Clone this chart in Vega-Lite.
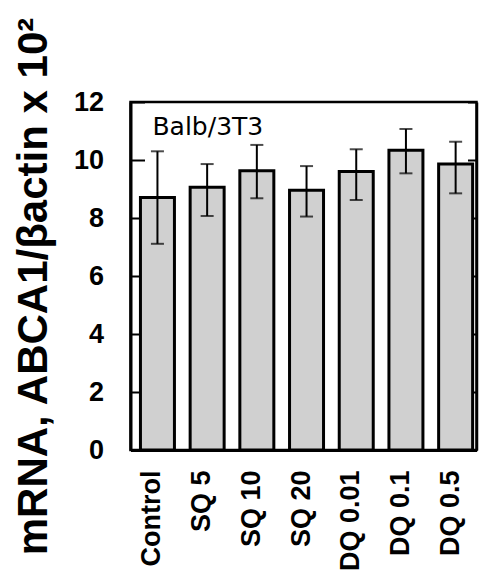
{
  "$schema": "https://vega.github.io/schema/vega-lite/v6.json",
  "width": 346,
  "height": 348,
  "autosize": "none",
  "padding": {"left": 130.5, "top": 102, "right": 2.5, "bottom": 125},
  "background": "white",
  "config": {
    "view": {"stroke": "black", "strokeWidth": 2.5},
    "font": "Liberation Sans"
  },
  "data": {
    "values": [
      {"group": "Control", "mean": 8.71, "low": 7.11, "high": 10.3, "note": "Balb/3T3"},
      {"group": "SQ 5", "mean": 9.06, "low": 8.07, "high": 9.86, "note": ""},
      {"group": "SQ 10", "mean": 9.63, "low": 8.68, "high": 10.52, "note": ""},
      {"group": "SQ 20", "mean": 8.96, "low": 8.05, "high": 9.79, "note": ""},
      {"group": "DQ 0.01", "mean": 9.6, "low": 8.62, "high": 10.37, "note": ""},
      {"group": "DQ 0.1", "mean": 10.34, "low": 9.54, "high": 11.07, "note": ""},
      {"group": "DQ 0.5", "mean": 9.86, "low": 8.85, "high": 10.63, "note": ""}
    ]
  },
  "encoding": {
    "x": {
      "field": "group", "type": "nominal",
      "sort": ["Control", "SQ 5", "SQ 10", "SQ 20", "DQ 0.01", "DQ 0.1", "DQ 0.5"],
      "scale": {"paddingInner": 0.316, "paddingOuter": 0.139, "align": 0.72},
      "axis": {
        "title": null, "labelAngle": 270, "ticks": false, "labelPadding": 20,
        "labelOffset": -5, "labelFontSize": 27, "labelFontWeight": "bold",
        "labelFont": "Liberation Sans", "labelColor": "black",
        "domainColor": "black", "domainWidth": 3
      }
    }
  },
  "layer": [
    {
      "mark": {"type": "bar", "fill": "#d0d0d0", "stroke": "black", "strokeWidth": 3},
      "encoding": {
        "y": {
          "field": "mean", "type": "quantitative",
          "scale": {"domain": [0, 12]},
          "axis": {
            "values": [0, 2, 4, 6, 8, 10, 12], "grid": false,
            "tickSize": -14, "tickWidth": 2, "tickColor": "black",
            "domainColor": "black", "domainWidth": 3,
            "labelFont": "Liberation Sans", "labelFontWeight": "bold",
            "labelFontSize": 27, "labelColor": "black", "labelPadding": 41,
            "labelFlush": false,
            "title": "mRNA, ABCA1/βactin x 10²", "titleFont": "Liberation Sans",
            "titleFontSize": 42, "titleFontWeight": "bold", "titleColor": "black",
            "titlePadding": 18, "titleY": 184
          }
        }
      }
    },
    {
      "mark": {"type": "rule", "color": "black", "strokeWidth": 2},
      "encoding": {
        "y": {
          "field": "low", "type": "quantitative", "scale": {"domain": [0, 12]},
          "axis": {
            "orient": "right", "values": [0, 2, 4, 6, 8, 10, 12], "grid": false,
            "labels": false, "title": null, "tickSize": -9, "tickWidth": 2,
            "tickColor": "black", "domainColor": "black", "domainWidth": 2.5
          }
        },
        "y2": {"field": "high"}
      }
    },
    {
      "mark": {"type": "tick", "color": "black", "thickness": 2, "size": 13},
      "encoding": {
        "y": {"field": "high", "type": "quantitative", "scale": {"domain": [0, 12]}, "axis": null}
      }
    },
    {
      "mark": {"type": "tick", "color": "black", "thickness": 2, "size": 13},
      "encoding": {
        "y": {"field": "low", "type": "quantitative", "scale": {"domain": [0, 12]}, "axis": null}
      }
    },
    {
      "transform": [{"filter": "datum.note != ''"}],
      "mark": {"type": "text", "align": "left", "baseline": "alphabetic", "font": "DejaVu Sans", "fontSize": 25, "dx": -5, "color": "black"},
      "encoding": {
        "y": {"datum": 10.86, "type": "quantitative", "scale": {"domain": [0, 12]}, "axis": null},
        "text": {"field": "note"}
      }
    }
  ],
  "resolve": {"axis": {"y": "independent"}}
}
